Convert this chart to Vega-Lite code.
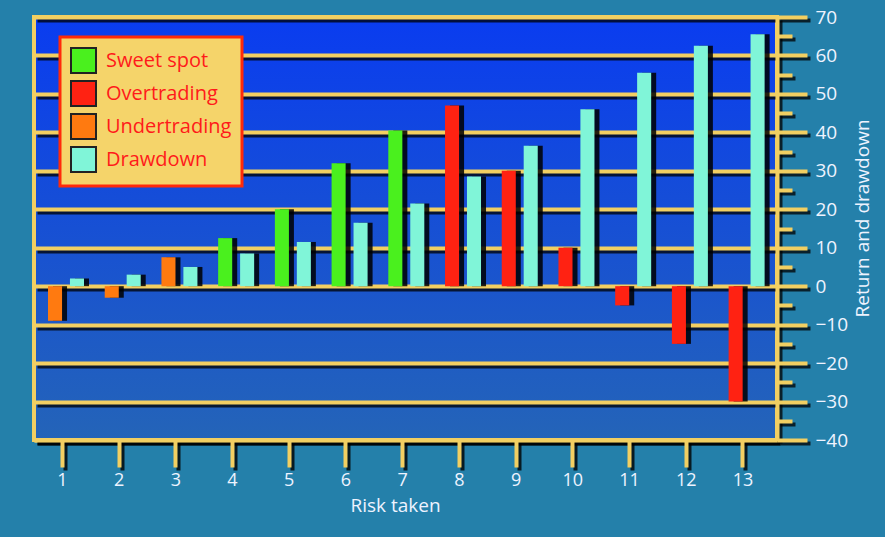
{
  "$schema": "https://vega.github.io/schema/vega-lite/v6.json",
  "width": 743,
  "height": 423,
  "autosize": "none",
  "padding": {"left": 34, "top": 17, "right": 108, "bottom": 97},
  "background": "#2480aa",
  "config": {
    "font": "Open Sans",
    "view": {
      "fill": {"gradient": "linear", "x1": 0, "y1": 0, "x2": 0, "y2": 1, "stops": [{"offset": 0, "color": "#0a3cf0"}, {"offset": 1, "color": "#2464b8"}]},
      "stroke": "#f2cf62",
      "strokeWidth": 4
    }
  },
  "data": {
    "values": [
      {"risk": 1, "series": "Return", "category": "Undertrading", "value": -9},
      {"risk": 1, "series": "Drawdown", "category": "Drawdown", "value": 2},
      {"risk": 2, "series": "Return", "category": "Undertrading", "value": -3},
      {"risk": 2, "series": "Drawdown", "category": "Drawdown", "value": 3},
      {"risk": 3, "series": "Return", "category": "Undertrading", "value": 7.5},
      {"risk": 3, "series": "Drawdown", "category": "Drawdown", "value": 5},
      {"risk": 4, "series": "Return", "category": "Sweet spot", "value": 12.5},
      {"risk": 4, "series": "Drawdown", "category": "Drawdown", "value": 8.5},
      {"risk": 5, "series": "Return", "category": "Sweet spot", "value": 20},
      {"risk": 5, "series": "Drawdown", "category": "Drawdown", "value": 11.5},
      {"risk": 6, "series": "Return", "category": "Sweet spot", "value": 32},
      {"risk": 6, "series": "Drawdown", "category": "Drawdown", "value": 16.5},
      {"risk": 7, "series": "Return", "category": "Sweet spot", "value": 40.5},
      {"risk": 7, "series": "Drawdown", "category": "Drawdown", "value": 21.5},
      {"risk": 8, "series": "Return", "category": "Overtrading", "value": 47},
      {"risk": 8, "series": "Drawdown", "category": "Drawdown", "value": 28.5},
      {"risk": 9, "series": "Return", "category": "Overtrading", "value": 30},
      {"risk": 9, "series": "Drawdown", "category": "Drawdown", "value": 36.5},
      {"risk": 10, "series": "Return", "category": "Overtrading", "value": 10},
      {"risk": 10, "series": "Drawdown", "category": "Drawdown", "value": 46},
      {"risk": 11, "series": "Return", "category": "Overtrading", "value": -5},
      {"risk": 11, "series": "Drawdown", "category": "Drawdown", "value": 55.5},
      {"risk": 12, "series": "Return", "category": "Overtrading", "value": -15},
      {"risk": 12, "series": "Drawdown", "category": "Drawdown", "value": 62.5},
      {"risk": 13, "series": "Return", "category": "Overtrading", "value": -30},
      {"risk": 13, "series": "Drawdown", "category": "Drawdown", "value": 65.5}
    ]
  },
  "layer": [
    {
      "mark": {"type": "bar", "color": "#000000", "opacity": 0.85},
      "encoding": {
        "x": {
          "field": "risk",
          "type": "ordinal",
          "scale": {"paddingInner": 0, "paddingOuter": 0.05, "align": 0},
          "axis": {
            "orient": "bottom",
            "title": null,
            "labels": false,
            "grid": false,
            "domainColor": "#000000",
            "domainWidth": 4,
            "domainOpacity": 0.8,
            "tickColor": "#000000",
            "tickOpacity": 0.8,
            "tickWidth": 4,
            "tickSize": 27,
            "translate": 3.5
          }
        },
        "xOffset": {
          "field": "series",
          "type": "nominal",
          "scale": {"domain": ["Return", "Drawdown"], "range": [19, 55], "paddingInner": 0.36, "paddingOuter": 0}
        },
        "y": {
          "field": "value",
          "type": "quantitative",
          "scale": {"domain": [-40, 70], "nice": false, "zero": false},
          "axis": {
            "orient": "right",
            "title": null,
            "labels": false,
            "values": [-40, -35, -30, -25, -20, -15, -10, -5, 0, 5, 10, 15, 20, 25, 30, 35, 40, 45, 50, 55, 60, 65, 70],
            "grid": true,
            "gridColor": "#000000",
            "gridWidth": 4,
            "gridOpacity": {"condition": {"test": "datum.value % 10 === 0", "value": 0.75}, "value": 0},
            "tickSize": {"condition": {"test": "datum.value % 10 === 0", "value": 30}, "value": 15},
            "tickColor": "#000000",
            "tickOpacity": 0.75,
            "tickWidth": 4,
            "domainColor": "#000000",
            "domainOpacity": 0.75,
            "domainWidth": 4,
            "translate": 3.5
          }
        }
      }
    },
    {
      "mark": {"type": "bar"},
      "encoding": {
        "x": {
          "field": "risk",
          "type": "ordinal",
          "scale": {"paddingInner": 0, "paddingOuter": 0.05, "align": 0},
          "axis": {
            "orient": "bottom",
            "title": "Risk taken",
            "labelAngle": 0,
            "grid": false,
            "domainColor": "#f2cf62",
            "domainWidth": 4,
            "tickColor": "#f2cf62",
            "tickWidth": 4,
            "tickSize": 27,
            "labelColor": "#eef3ff",
            "labelFontSize": 18,
            "labelPadding": 4,
            "titleColor": "#eef3ff",
            "titleFontSize": 19,
            "titleFontWeight": "normal",
            "titlePadding": 7,
            "titleX": 361
          }
        },
        "xOffset": {
          "field": "series",
          "type": "nominal",
          "scale": {"domain": ["Return", "Drawdown"], "range": [14, 50], "paddingInner": 0.36, "paddingOuter": 0}
        },
        "y": {
          "field": "value",
          "type": "quantitative",
          "scale": {"domain": [-40, 70], "nice": false, "zero": false},
          "axis": {
            "orient": "right",
            "title": "Return and drawdown",
            "values": [-40, -35, -30, -25, -20, -15, -10, -5, 0, 5, 10, 15, 20, 25, 30, 35, 40, 45, 50, 55, 60, 65, 70],
            "grid": true,
            "gridColor": "#f2cf62",
            "gridWidth": 4,
            "gridOpacity": {"condition": {"test": "datum.value % 10 === 0", "value": 1}, "value": 0},
            "tickSize": {"condition": {"test": "datum.value % 10 === 0", "value": 30}, "value": 15},
            "tickColor": "#f2cf62",
            "tickWidth": 4,
            "domainColor": "#f2cf62",
            "domainWidth": 4,
            "labelExpr": "datum.value % 10 === 0 ? datum.label : ''",
            "labelColor": "#eef3ff",
            "labelFontSize": 19,
            "labelPadding": 8,
            "titleColor": "#eef3ff",
            "titleFontSize": 19,
            "titleFontWeight": "normal",
            "titleAngle": 270,
            "titleX": 85,
            "titleY": 201,
            "titleAlign": "center",
            "titleBaseline": "middle"
          }
        },
        "color": {
          "field": "category",
          "type": "nominal",
          "scale": {
            "domain": ["Sweet spot", "Overtrading", "Undertrading", "Drawdown"],
            "range": ["#4af01e", "#ff2212", "#ff7a10", "#80f5d8"]
          },
          "legend": {
            "orient": "none",
            "legendX": 26,
            "legendY": 20,
            "title": null,
            "padding": 10,
            "fillColor": "#f5d46a",
            "strokeColor": "#ff2a0a",
            "symbolType": "square",
            "symbolSize": 625,
            "symbolStrokeColor": "#222222",
            "symbolStrokeWidth": 2,
            "symbolOpacity": 1,
            "labelOffset": 9,
            "rowPadding": 0,
            "labelFontSize": 20,
            "labelColor": "#ff1a1a",
            "encode": {"legend": {"update": {"strokeWidth": {"value": 3}}}}
          }
        }
      }
    }
  ],
  "resolve": {"scale": {"xOffset": "independent"}, "axis": {"x": "independent", "y": "independent"}}
}
